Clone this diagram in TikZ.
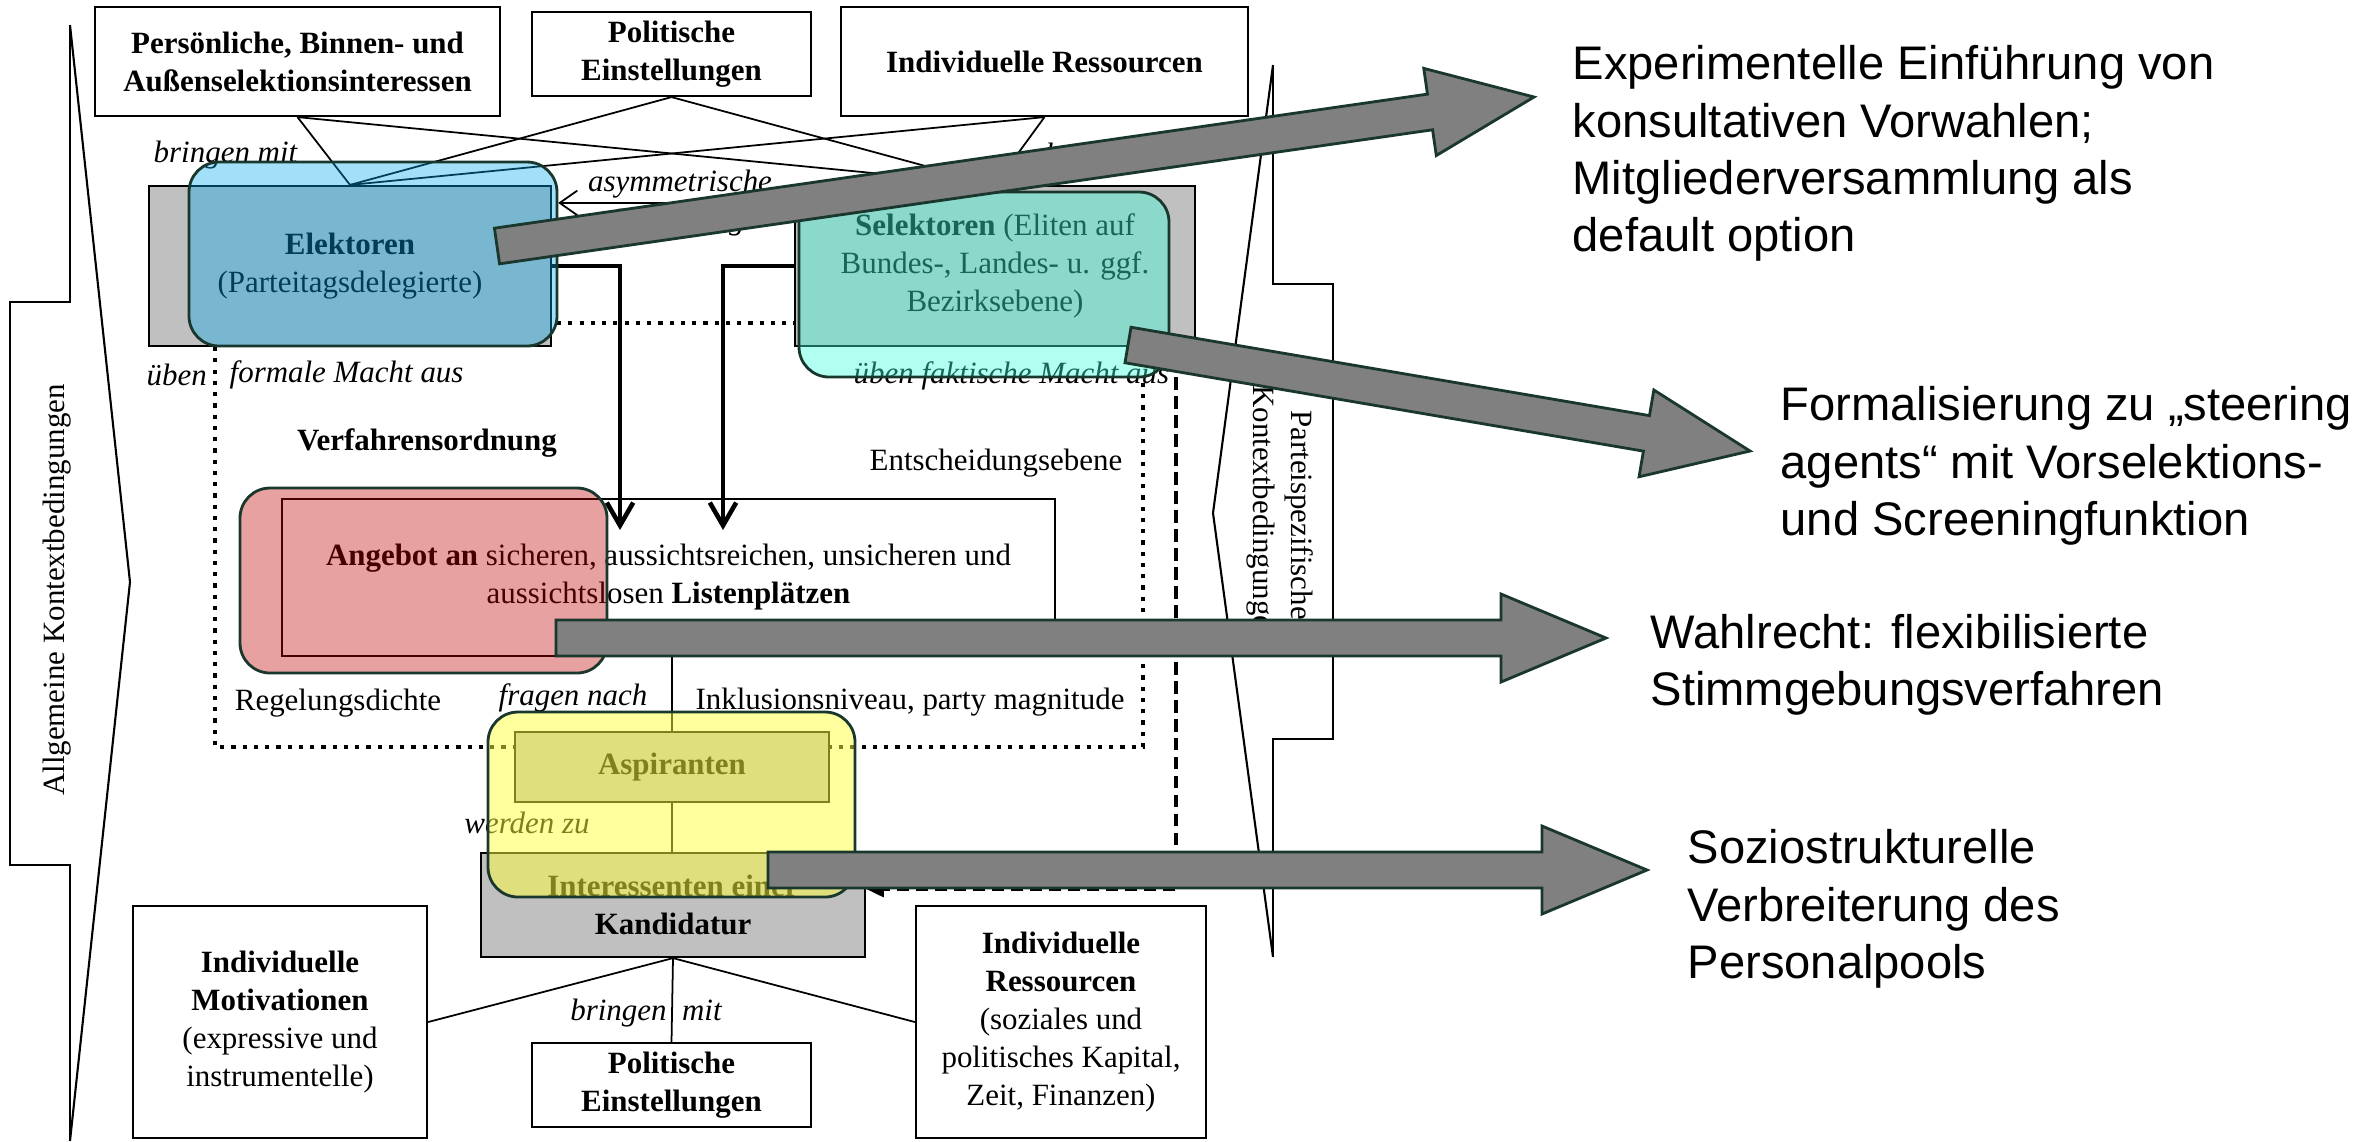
\documentclass[tikz,border=0pt]{standalone}
\usepackage{fontspec}
\setmainfont{Liberation Serif}
\newfontfamily\sidefont{Liberation Sans}
\usetikzlibrary{arrows.meta,calc}

\definecolor{boxgray}{RGB}{192,192,192}
\definecolor{arrowgray}{RGB}{128,128,128}
\definecolor{rimgreen}{RGB}{25,55,45}
\definecolor{elekblue}{RGB}{0,170,236}
\definecolor{selteal}{RGB}{60,255,220}
\definecolor{angred}{RGB}{190,0,0}
\definecolor{aspyellow}{RGB}{255,255,60}

% fat grey arrow from #1 (tail) to #2 (tip)
\newcommand{\bigarrow}[2]{%
  \coordinate (ba) at ($(#2)!1.05cm!(#1)$);
  \draw[fatarrow] ($(#1)!0.18cm!90:(#2)$) -- ($(ba)!0.18cm!-90:(#1)$)
    -- ($(ba)!0.44cm!-90:(#1)$) -- (#2) -- ($(ba)!0.44cm!90:(#1)$)
    -- ($(ba)!0.18cm!90:(#1)$) -- ($(#1)!0.18cm!-90:(#2)$) -- cycle;}

\begin{document}
\fontsize{8.8}{10.8}\selectfont
\begin{tikzpicture}[x=0.01cm, y=-0.01cm,
	plainbox/.style={draw, fill=white, line width=0.6pt, align=center, inner sep=1pt},
	graybox/.style={plainbox, fill=boxgray},
	lbl/.style={inner sep=0pt, align=center},
	frameline/.style={line width=0.6pt},
	thinline/.style={line width=0.5pt},
	powerline/.style={line width=1.3pt, -{Straight Barb[length=6.5pt,width=7.5pt]}},
	asymline/.style={line width=0.5pt, -{Straight Barb[length=5pt,width=7pt]}},
	dotline/.style={line width=1.2pt, dash pattern=on 1.2pt off 2pt},
	dashline/.style={line width=1pt, dash pattern=on 3.6pt off 1.8pt},
	tint/.style={draw=rimgreen, line width=0.8pt, rounded corners=0.3cm},
	fatarrow/.style={draw=rimgreen, fill=arrowgray, line width=0.8pt},
	sidetext/.style={font=\sidefont\fontsize{13.4}{16.3}\selectfont, align=left, anchor=west, inner sep=0pt}]
	\useasboundingbox (0,0) rectangle (2379,1141);

	% context chevrons
	\draw[frameline] (70,25) -- (70,302) -- (10,302) -- (10,865) -- (70,865) -- (70,1141);
	\draw[frameline] (70,25) -- (130,582) -- (70,1141);
	\node[lbl, rotate=90] (allg) at (57,590) {Allgemeine Kontextbedingungen};
	\draw[frameline] (1273,65) -- (1273,284) -- (1333,284) -- (1333,739) -- (1273,739) -- (1273,957);
	\draw[frameline] (1273,65) -- (1213,513) -- (1273,957);
	\node[lbl, rotate=-90] (partei) at (1280,515) {Parteispezifische\\Kontextbedingungen};

	% upper level
	\node[plainbox, font=\bfseries, minimum width=4.05cm, minimum height=1.09cm] (pers) at (297.5,61.5) {Persönliche, Binnen- und\\Außenselektionsinteressen};
	\node[plainbox, font=\bfseries, minimum width=2.79cm, minimum height=0.84cm] (polit) at (671.5,54) {Politische\\Einstellungen};
	\node[plainbox, font=\bfseries, minimum width=4.07cm, minimum height=1.09cm] (ress) at (1044.5,61.5) {Individuelle Ressourcen};
	\node[graybox, minimum width=4.02cm, minimum height=1.6cm] (elek) at (350,266) {\textbf{Elektoren}\\(Parteitagsdelegierte)};
	\node[graybox, minimum width=4cm, minimum height=1.6cm] (sel) at (995,266) {\textbf{Selektoren} (Eliten auf\\Bundes-, Landes- u. ggf.\\Bezirksebene)};
	\foreach \t in {pers,polit,ress}
		{\draw[thinline] (\t.south) -- (elek.north);
		 \draw[thinline] (\t.south) -- (sel.north);}
	\node[lbl, font=\itshape, anchor=west] (bring1) at (153,155) {bringen mit};
	\node[lbl, font=\itshape, anchor=west] (bring2) at (1045,157) {bringen mit};
	\node[lbl, font=\itshape] (asym) at (680,203) {asymmetrische\\Beziehung};
	\draw[asymline] ($(sel.north west)+(0,18)$) -- ($(elek.north east)+(6,18)$);

	% procedure frame
	\draw[dotline] (215,347) -- (215,747) -- (1143,747) -- (1143,378);
	\draw[dotline] (557,323) -- (795,323);
	\node[lbl, font=\itshape, anchor=west] (uben) at (146,375) {üben};
	\node[lbl, font=\itshape, anchor=west] (formal) at (229,375) {formale Macht aus};
	\node[lbl, font=\itshape, anchor=west] (faktisch) at (853,376) {üben faktische Macht aus};
	\node[lbl, font=\bfseries] (verf) at (427,443) {Verfahrensordnung};
	\node[lbl] (ebene) at (996,463) {Entscheidungsebene};
	\node[plainbox, minimum width=7.73cm, minimum height=1.57cm] (liste) at (668.5,577.5) {\textbf{Angebot an} sicheren, aussichtsreichen, unsicheren und\\aussichtslosen \textbf{Listenplätzen}};
	\coordinate (in1) at (620,530);
	\coordinate (in2) at (723,530);
	\draw[powerline] (elek.east) -| (in1);
	\draw[powerline] (sel.west) -| (in2);
	\node[lbl] (dichte) at (338,703) {Regelungsdichte};
	\node[lbl, font=\itshape] (fragen) at (573,698) {fragen nach};
	\node[lbl] (inkl) at (910,702) {Inklusionsniveau, party magnitude};

	% aspirants and candidates
	\node[graybox, font=\bfseries, minimum width=3.14cm, minimum height=0.7cm] (asp) at (672,767) {Aspiranten};
	\node[graybox, font=\bfseries, minimum width=3.84cm, minimum height=1.04cm] (kand) at (673,905) {Interessenten einer\\Kandidatur};
	\draw[line width=0.8pt] (asp.north |- liste.south) -- (asp.north);
	\draw[thinline] (asp.south) -- (asp.south |- kand.north);
	\node[lbl, font=\itshape] (werden) at (527,823) {werden zu};
	\coordinate (dtop) at (1176,377);
	\draw[dashline, -{Triangle[length=5pt,width=4.5pt]}] (dtop) |- ([yshift=0.16cm]kand.east);
	\node[lbl, font=\itshape, anchor=west] (chance) at (925,868) {latente Chance};

	% lower level
	\node[plainbox, minimum width=2.94cm, minimum height=2.32cm] (motiv) at (280,1022) {\textbf{Individuelle}\\\textbf{Motivationen}\\(expressive und\\instrumentelle)};
	\node[plainbox, font=\bfseries, minimum width=2.79cm, minimum height=0.84cm] (polit2) at (671.5,1085) {Politische\\Einstellungen};
	\node[plainbox, minimum width=2.9cm, minimum height=2.32cm] (ress2) at (1061,1022) {\textbf{Individuelle}\\\textbf{Ressourcen}\\(soziales und\\politisches Kapital,\\Zeit, Finanzen)};
	\draw[thinline] (motiv.east) -- (kand.south) -- (ress2.west);
	\draw[thinline] (kand.south) -- (polit2.north);
	\node[lbl, font=\itshape] (bring3) at (646,1013) {bringen\enspace mit};

	% coloured tints
	\draw[tint, fill=elekblue, fill opacity=0.37] (189,162) rectangle (557,346);
	\draw[tint, fill=selteal, fill opacity=0.4] (799,192) rectangle (1169,377);
	\draw[tint, fill=angred, fill opacity=0.37] (240,488) rectangle (607,673);
	\draw[tint, fill=aspyellow, fill opacity=0.5] (488,712) rectangle (855,897);

	% reform arrows
	\coordinate (a1s) at (497,246);  \coordinate (a1e) at (1534,97);
	\coordinate (a2s) at (1128,345); \coordinate (a2e) at (1750,451);
	\coordinate (a3s) at (556,638);  \coordinate (a3e) at (1606,638);
	\coordinate (a4s) at (768,870);  \coordinate (a4e) at (1647,870);
	\bigarrow{a1s}{a1e}
	\bigarrow{a2s}{a2e}
	\bigarrow{a3s}{a3e}
	\bigarrow{a4s}{a4e}
	\node[sidetext] (reform1) at (1572,153.5) {Experimentelle Einführung von\\konsultativen Vorwahlen;\\Mitgliederversammlung als\\default option};
	\node[sidetext] (reform2) at (1780,466) {Formalisierung zu „steering\\agents“ mit Vorselektions-\\und Screeningfunktion};
	\node[sidetext] (reform3) at (1650,665) {Wahlrecht: flexibilisierte\\Stimmgebungsverfahren};
	\node[sidetext] (reform4) at (1687,909) {Soziostrukturelle\\Verbreiterung des\\Personalpools};
\end{tikzpicture}
\end{document}
